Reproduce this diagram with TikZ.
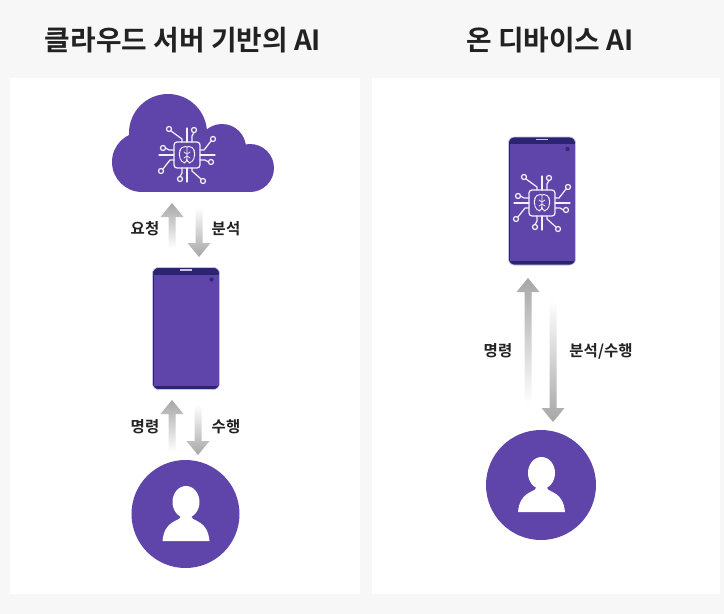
\documentclass[tikz,border=0pt]{standalone}
\usepackage{fontspec}
\setmainfont{Noto Sans CJK KR}[BoldFont={Noto Sans CJK KR Bold}]
\usetikzlibrary{calc}
\definecolor{pagebg}{HTML}{F7F7F7}
\definecolor{ink}{HTML}{222222}
\definecolor{violet}{HTML}{5F45A9}
\definecolor{deep}{HTML}{2B2470}
\definecolor{fringe}{HTML}{C9C0E6}
\definecolor{camdot}{HTML}{2F2A78}
\definecolor{arrowgrey}{HTML}{A6A6A6}
\tikzset{
  panel/.style={fill=white,draw=none,minimum width=#1,minimum height=516pt,inner sep=0pt,outer sep=0pt},
  title/.style={font=\bfseries\fontsize{27.8}{30}\selectfont,text=ink,inner sep=0pt},
  lab/.style={font=\bfseries\fontsize{15.5}{17}\selectfont,text=ink,inner sep=0pt},
  phonebody/.style={fill=deep,draw=fringe,line width=.6pt,rounded corners=6pt,minimum width=67pt,inner sep=0pt,outer sep=0pt},
  usercircle/.style={circle,fill=violet,minimum size=#1,inner sep=0pt},
  uparrow/.style={top color=arrowgrey,bottom color=white,draw=none},
  downarrow/.style={top color=white,bottom color=arrowgrey,draw=none},
  chipline/.style={draw=white!92!violet,line width=1.25pt,line join=round,line cap=round},
}
\newcommand{\arrowshape}[3]{%
  % #1 style, #2 tail, #3 tip
  \path[#1] let \p1=(#2),\p2=(#3),\n1={(\y2>\y1)*2-1} in
    (\x1-3.5pt,\y1)--(\x1+3.5pt,\y1)
    --(\x1+3.5pt,\y2-\n1*14pt)--(\x1+11.5pt,\y2-\n1*14pt)
    --(\x2,\y2)
    --(\x1-11.5pt,\y2-\n1*14pt)--(\x1-3.5pt,\y2-\n1*14pt)--cycle;
}
\newcommand{\chipicon}[1]{%
  \begin{scope}[shift={(#1)}]
    \draw[chipline,rounded corners=3pt] (-13,-13) rectangle (13,13);
    \draw[chipline,line width=.9pt,rounded corners=2pt]
      (0,-8)--(-4,-9)--(-6,-6)--(-8,-4)--(-7,-1)--(-8,2)--(-6,5)--(-4,8)--(-1,8)--(0,4)--(0,-8)
      (0,-8)--(4,-9)--(6,-6)--(8,-4)--(7,-1)--(8,2)--(6,5)--(4,8)--(1,8)--(0,4);
    \draw[chipline,line width=.8pt] (-3,-3)--(0,-1)--(3,-3) (-3,3)--(0,1)--(3,3);
    \draw[chipline] (0,-13)--(0,-27) (0,13)--(0,27) (-13,0)--(-28,0) (13,0)--(28,0);
    \draw[chipline] (-5,-13)--(-5,-16)--(-16.2,-24.2) (5,-13)--(5,-19)--(7,-22.5);
    \draw[chipline] (13,-5)--(17,-5)--(24.2,-14.2) (13,5)--(18,5)--(21.5,7);
    \draw[chipline] (-13,-5)--(-18,-5)--(-21.5,-7) (-13,5)--(-17,5)--(-24.2,14.2);
    \draw[chipline] (-5,13)--(-5,18)--(-7,21.5) (5,13)--(5,16)--(14.2,24.2);
    \foreach \p in {(-18,-26),(7,-25),(26,-16),(24,7),(-24,-7),(-26,16),(-7,24),(16,26)}
      \draw[chipline] \p circle[radius=2.5];
  \end{scope}}
\newcommand{\phoneparts}[1]{%
  \fill[violet] ($(#1.north west)+(1,7)$) rectangle ($(#1.south east)+(-1,-4)$);
  \draw[fringe,line width=1.6pt] ($(#1.north)+(-6,2.4)$)--($(#1.north)+(6,2.4)$);
  \fill[camdot] ($(#1.north east)+(-8,12)$) circle[radius=2.2];
}
\newcommand{\personicon}[1]{%
  \begin{scope}[shift={(#1.center)}]
    \fill[white] (0.5,-12) ellipse[x radius=13.5,y radius=16];
    \fill[white] (-5,0)--(6,0)--(6,3)
      .. controls (8,8) and (22,6) .. (24,27)--(-23,27)
      .. controls (-21,6) and (-7,8) .. (-5,3)--cycle;
  \end{scope}}
\begin{document}
\begin{tikzpicture}[x=1pt,y=-1pt]
\useasboundingbox (0,0) rectangle (724,614);
\fill[pagebg] (0,0) rectangle (724,614);
\node[panel=350pt] (leftpanel) at (185,336) {};
\node[panel=348pt] (rightpanel) at (546,336) {};
\node[title] (lefttitle) at (183,40) {클라우드 서버 기반의 AI};
\node[title] (righttitle) at (550,40) {온 디바이스 AI};
% cloud
\fill[violet] (168,133) circle[radius=39];
\fill[violet] (142,162) circle[radius=30];
\fill[violet] (222,148) circle[radius=24];
\fill[violet] (250,168) circle[radius=24];
\fill[violet] (142,150) rectangle (250,192);
\chipicon{187,155}
% phones
\node[phonebody,minimum height=122pt] (phoneleft) at (186,328.5) {};
\phoneparts{phoneleft}
\node[phonebody,minimum height=128pt] (phoneright) at (542,201) {};
\phoneparts{phoneright}
\chipicon{542,203}
% people
\node[usercircle=108pt] (userleft) at (185.5,514) {};
\personicon{userleft}
\node[usercircle=110pt] (userright) at (541,485) {};
\personicon{userright}
% connector ends
\coordinate (a1t) at (172,248); \coordinate (a1h) at (172,203);
\coordinate (a2t) at (199,207); \coordinate (a2h) at (199,257);
\coordinate (a3t) at (172,452); \coordinate (a3h) at (172,400);
\coordinate (a4t) at (198,405); \coordinate (a4h) at (198,455);
\coordinate (a5t) at (528,403); \coordinate (a5h) at (528,278);
\coordinate (a6t) at (553,300); \coordinate (a6h) at (553,422);
\arrowshape{uparrow}{a1t}{a1h}
\arrowshape{downarrow}{a2t}{a2h}
\arrowshape{uparrow}{a3t}{a3h}
\arrowshape{downarrow}{a4t}{a4h}
\arrowshape{uparrow}{a5t}{a5h}
\arrowshape{downarrow}{a6t}{a6h}
% labels
\node[lab] (l1) at (145,229) {요청};
\node[lab] (l2) at (226,229) {분석};
\node[lab] (l3) at (145,427) {명령};
\node[lab] (l4) at (226,427) {수행};
\node[lab] (l5) at (498,351) {명령};
\node[lab] (l6) at (601,351) {분석/수행};
\end{tikzpicture}
\end{document}
